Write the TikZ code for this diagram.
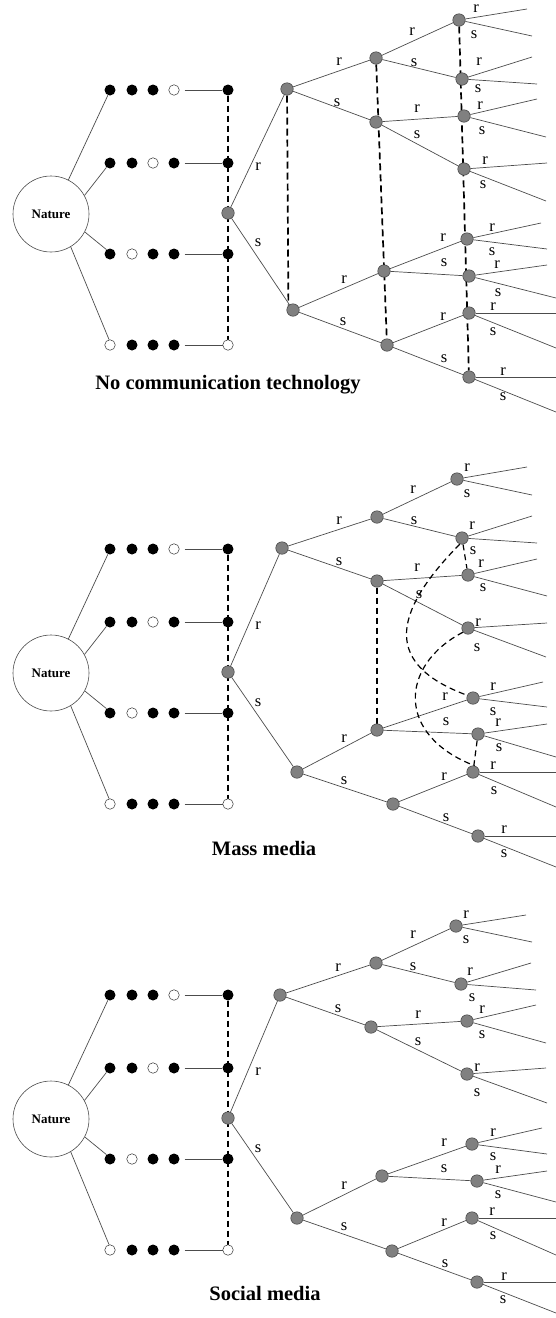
\documentclass[tikz,border=0pt]{standalone}
\usepackage{fontspec}
\setmainfont{Liberation Serif}
\usetikzlibrary{backgrounds}
\tikzset{
 ln/.style={draw=black!70, line width=0.7pt},
 gn/.style={circle, fill=black!50, draw=black!75, line width=0.5pt, minimum size=12.5pt, inner sep=0pt},
 bd/.style={circle, fill=black, minimum size=11pt, inner sep=0pt},
 wd/.style={circle, fill=white, draw=black!80, line width=0.5pt, minimum size=10.5pt, inner sep=0pt},
 nat/.style={circle, draw=black!70, line width=0.6pt, minimum size=76pt, inner sep=0pt, font=\fontsize{13}{13}\selectfont\bfseries},
 lab/.style={font=\fontsize{16.5}{16.5}\selectfont, inner sep=0pt},
 ttl/.style={font=\fontsize{20.5}{22}\selectfont\bfseries, inner sep=0pt},
 dshl/.style={draw=black, line width=1.1pt, dash pattern=on 6pt off 4pt},
 dshb/.style={draw=black, line width=1.7pt, dash pattern=on 7pt off 4pt},
 dshm/.style={draw=black, line width=1.2pt, dash pattern=on 6pt off 4pt},
}
\newcommand{\LeftPart}[1]{%
 \node[nat] (#1nat) at (51,214) {Nature};
 \node[bd] (#1r1a) at (110,90) {}; \node[bd] (#1r1b) at (132,90) {};
 \node[bd] (#1r1c) at (153,90) {}; \node[wd] (#1r1d) at (174,90) {};
 \node[bd] (#1r1e) at (228,90) {};
 \node[bd] (#1r2a) at (110,163) {}; \node[bd] (#1r2b) at (132,163) {};
 \node[wd] (#1r2c) at (153,163) {}; \node[bd] (#1r2d) at (174,163) {};
 \node[bd] (#1r2e) at (228,163) {};
 \node[bd] (#1r3a) at (110,254) {}; \node[wd] (#1r3b) at (132,254) {};
 \node[bd] (#1r3c) at (153,254) {}; \node[bd] (#1r3d) at (174,254) {};
 \node[bd] (#1r3e) at (228,254) {};
 \node[wd] (#1r4a) at (110,345) {}; \node[bd] (#1r4b) at (132,345) {};
 \node[bd] (#1r4c) at (153,345) {}; \node[bd] (#1r4d) at (174,345) {};
 \node[wd] (#1r4e) at (228,345) {};
 \node[gn] (#1dec) at (228,213) {};
 \begin{pgfonlayer}{background}
  \draw[dshl] (#1r1e) -- (#1r4e);
  \draw[ln] (#1nat.63) -- (#1r1a.248);
  \draw[ln] (#1nat.29) -- (#1r2a.231);
  \draw[ln] (#1nat.-28) -- (#1r3a.129);
  \draw[ln] (#1nat.-59) -- (#1r4a.100);
  \foreach \r in {r1,r2,r3,r4} \draw[ln, shorten <=5pt] (#1\r d) -- (#1\r e);
 \end{pgfonlayer}
}
\newcommand{\TreeEdges}[1]{%
 \begin{pgfonlayer}{background}
  \foreach \a/\b in {dec/A, dec/Ap, A/B1, A/B2, B1/C1, B1/C2, B2/C3, B2/C4,
    Ap/B3, Ap/B4, B3/C5, B3/C6, B4/C7, B4/C8,
    C1/C1r, C1/C1s, C2/C2r, C2/C2s, C3/C3r, C3/C3s, C4/C4r, C4/C4s,
    C5/C5r, C5/C5s, C6/C6r, C6/C6s, C7/C7r, C7/C7s, C8/C8r, C8/C8s}
   \draw[ln] (#1\a) -- (#1\b);
 \end{pgfonlayer}
}
\begin{document}
\begin{tikzpicture}[x=1pt, y=-1pt]
\useasboundingbox (0,0) rectangle (556,1318);

% ---------- Panel 1 ----------
\LeftPart{p1}
\foreach \n/\x/\y in {A/287/89, B1/376/58, B2/376/122, C1/459/20, C2/462/79, C3/464/116, C4/464/169,
  Ap/293/310, B3/384/271, B4/387/345, C5/467/239, C6/469/276, C7/469/313, C8/469/377}
  \node[gn] (p1\n) at (\x,\y) {};
\foreach \n/\x/\y in {C1r/527/9, C1s/532/36, C2r/532/57, C2s/537/84, C3r/537/99, C3s/546/137,
  C4r/547/163, C4s/546/201, C5r/541/223, C5s/547/249, C6r/547/265, C6s/556/298,
  C7r/556/313, C7s/556/348, C8r/556/377, C8s/556/412}
  \coordinate (p1\n) at (\x,\y);
\TreeEdges{p1}
\begin{pgfonlayer}{background}
 \draw[dshb] (p1A) -- (p1Ap.north west);
 \draw[dshb] (p1B1) -- (p1B4);
 \draw[dshb] (p1C1) -- (p1C8);
\end{pgfonlayer}
\foreach \t/\x/\y in {r/258/167, s/258/243, r/339/62, s/337/103, r/412/32, s/414/63, r/417/109, s/417/135,
  r/476/9, s/474/35, r/479/62, s/478/89, r/480/106, s/482/131, r/485/161, s/483/185,
  r/344/280, s/343/322, r/443/238, s/444/263, r/443/317, s/444/359,
  r/492/228, s/492/252, r/497/265, s/498/293, r/493/307, s/493/332, r/503/372, s/503/397}
  \node[lab] (p1lab\x-\y) at (\x,\y) {\t};
\node[ttl] (t1) at (228,385) {No communication technology};

% ---------- Panel 2 ----------
\begin{scope}[shift={(0,459)}]
 \LeftPart{p2}
\end{scope}
\foreach \n/\x/\y in {A/282/548, B1/377/517, B2/377/581, C1/457/479, C2/462/538, C3/468/575, C4/468/628,
  Ap/297/772, B3/377/730, B4/393/804, C5/473/698, C6/478/734, C7/473/772, C8/478/836}
  \node[gn] (p2\n) at (\x,\y) {};
\foreach \n/\x/\y in {C1r/527/467, C1s/532/495, C2r/532/516, C2s/537/543, C3r/537/559, C3s/547/596,
  C4r/547/623, C4s/546/657, C5r/543/682, C5s/547/707, C6r/547/724, C6s/556/757,
  C7r/556/772, C7s/556/807, C8r/556/836, C8s/556/867}
  \coordinate (p2\n) at (\x,\y);
\TreeEdges{p2}
\begin{pgfonlayer}{background}
 \draw[dshm] (p2B2) -- (p2B3);
 \draw[dshm] (p2C2) -- (p2C3);
 \draw[dshm] (p2C6) -- (p2C7);
 \draw[dshm] (p2C2.250) .. controls (390,615) and (385,665) .. (p2C5.155);
 \draw[dshm] (p2C4.220) .. controls (400,665) and (395,735) .. (p2C7.75);
\end{pgfonlayer}
\foreach \t/\x/\y in {r/258/626, s/258/703, r/339/521, s/339/562, r/413/490, s/414/521, r/417/568, s/419/595,
  r/467/468, s/467/494, r/472/526, s/473/551, r/481/564, s/483/588, r/478/623, s/477/648,
  r/344/739, s/344/781, r/445/697, s/446/722, r/444/777, s/446/818,
  r/493/687, s/493/712, r/498/723, s/499/748, r/493/766, s/494/791, r/504/830, s/504/854}
  \node[lab] (p2lab\x-\y) at (\x,\y) {\t};
\node[ttl] (t2) at (264,848) {Mass media};

% ---------- Panel 3 ----------
\begin{scope}[shift={(0,905)}]
 \LeftPart{p3}
\end{scope}
\foreach \n/\x/\y in {A/280/995, B1/376/963, B2/371/1027, C1/456/926, C2/461/984, C3/467/1021, C4/467/1074,
  Ap/297/1218, B3/382/1176, B4/392/1251, C5/472/1144, C6/477/1181, C7/472/1218, C8/477/1282}
  \node[gn] (p3\n) at (\x,\y) {};
\foreach \n/\x/\y in {C1r/526/915, C1s/532/942, C2r/531/963, C2s/536/990, C3r/536/1005, C3s/546/1043,
  C4r/546/1068, C4s/547/1103, C5r/542/1128, C5s/547/1154, C6r/547/1171, C6s/556/1202,
  C7r/556/1218, C7s/556/1255, C8r/556/1282, C8s/556/1313}
  \coordinate (p3\n) at (\x,\y);
\TreeEdges{p3}
\foreach \t/\x/\y in {r/258/1072, s/258/1149, r/338/968, s/338/1009, r/413/935, s/413/967, r/418/1015, s/418/1042,
  r/466/915, s/466/940, r/470/972, s/472/998, r/482/1010, s/482/1035, r/477/1068, s/477/1093,
  r/344/1186, s/344/1227, r/444/1143, s/444/1169, r/444/1223, s/445/1264,
  r/493/1133, s/493/1157, r/498/1170, s/498/1195, r/492/1212, s/493/1236, r/504/1277, s/503/1300}
  \node[lab] (p3lab\x-\y) at (\x,\y) {\t};
\node[ttl] (t3) at (265,1293) {Social media};
\end{tikzpicture}
\end{document}
